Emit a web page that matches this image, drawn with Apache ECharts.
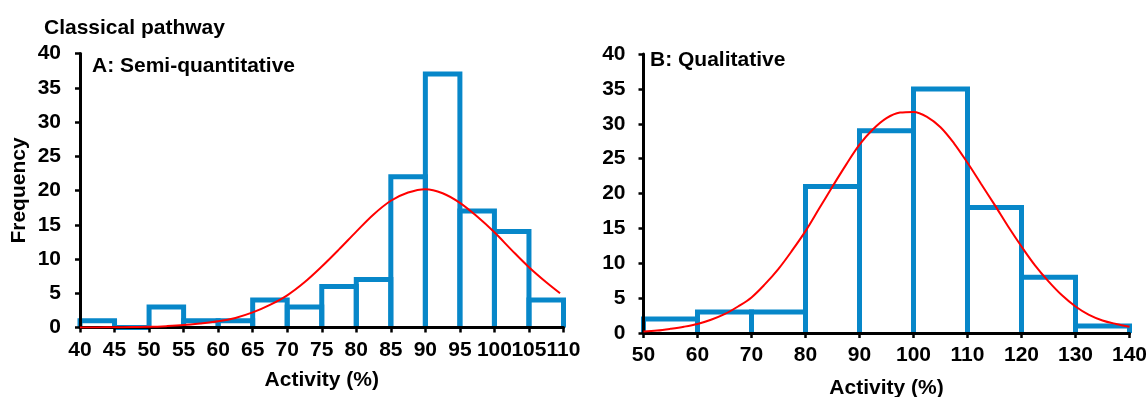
<!DOCTYPE html>
<html>
<head>
<meta charset="utf-8">
<script src="https://cdn.jsdelivr.net/npm/echarts@6/dist/echarts.min.js"></script>
<style>
  html, body { margin: 0; padding: 0; background: #fff; }
  #chart { width: 1148px; height: 397px; }
</style>
</head>
<body>
<div id="chart"></div>
<script>
// panel A: semi-quantitative, bins of 5
var binStartA = [40, 45, 50, 55, 60, 65, 70, 75, 80, 85, 90, 95, 100, 105];
var countA    = [1, 0, 3, 1, 1, 4, 3, 6, 7, 22, 37, 17, 14, 4];
var curveAx = [40, 42.5, 45, 47.5, 50, 52.5, 55, 57.5, 60, 62.5, 65, 67.5, 70, 72.5, 75, 77.5, 80, 82.5, 85, 87.5, 90, 92.5, 95, 97.5, 100, 102.5, 105, 107.5, 109.5];
var curveAy = [0, 0.01, 0.03, 0.06, 0.1, 0.2, 0.35, 0.6, 0.9, 1.4, 2.2, 3.3, 4.7, 6.6, 8.9, 11.4, 14.0, 16.5, 18.5, 19.7, 20.2, 19.6, 18.2, 16.2, 13.9, 11.3, 8.8, 6.6, 5.0];

// panel B: qualitative, bins of 10
var binStartB = [50, 60, 70, 80, 90, 100, 110, 120, 130];
var countB    = [2, 3, 3, 21, 29, 35, 18, 8, 1];
var curveBx = [50, 52.5, 55, 57.5, 60, 62.5, 65, 67.5, 70, 72.5, 75, 77.5, 80, 82.5, 85, 87.5, 90, 92.5, 95, 97.5, 100, 102.5, 105, 107.5, 110, 112.5, 115, 117.5, 120, 122.5, 125, 127.5, 130, 132.5, 135, 137.5, 140];
var curveBy = [0.2, 0.35, 0.6, 0.9, 1.3, 1.9, 2.7, 3.8, 5.1, 7.0, 9.2, 11.8, 14.6, 17.8, 21.0, 24.1, 27.0, 29.2, 30.8, 31.6, 31.7, 31.0, 29.5, 27.2, 24.4, 21.4, 18.4, 15.3, 12.4, 9.7, 7.4, 5.4, 3.8, 2.6, 1.8, 1.3, 0.9];

var FONT = '"Liberation Sans", Arial, sans-serif';
var FS = 21;
var BLUE = '#0787c9';

function histData(starts, counts, width) {
    var out = [];
    for (var i = 0; i < starts.length; i++) {
        out.push([starts[i], starts[i] + width, counts[i]]);
    }
    return out;
}

function zipXY(xs, ys) {
    var out = [];
    for (var i = 0; i < xs.length; i++) out.push([xs[i], ys[i]]);
    return out;
}

// open-bottom outlined bar, like the excel histogram
function renderBin(params, api) {
    var x0 = api.value(0), x1 = api.value(1), n = api.value(2);
    return {
        type: 'polyline',
        shape: { points: [api.coord([x0, 0]), api.coord([x0, n]), api.coord([x1, n]), api.coord([x1, 0])] },
        style: { fill: 'none', stroke: BLUE, lineWidth: 5, lineJoin: 'miter' }
    };
}

var labelStyle = { color: '#000', fontFamily: FONT, fontWeight: 'bold', fontSize: FS };
var axisLine = { show: true, onZero: false, lineStyle: { color: '#000', width: 3 } };
var axisTick = { show: true, inside: false, length: 5, lineStyle: { color: '#000', width: 2.5 } };

function xAx(idx, min, max, step, margin, gap) {
    return {
        type: 'value', gridIndex: idx, min: min, max: max, interval: step, z: 5,
        axisLine: axisLine, axisTick: axisTick, splitLine: { show: false },
        axisLabel: Object.assign({ margin: margin, showMinLabel: true, showMaxLabel: true }, labelStyle),
        name: 'Activity (%)', nameLocation: 'middle', nameGap: gap,
        nameTextStyle: labelStyle
    };
}

function yAx(idx, margin, withName) {
    var ax = {
        type: 'value', gridIndex: idx, min: 0, max: 40, interval: 5, z: 5,
        axisLine: axisLine, axisTick: axisTick, splitLine: { show: false },
        axisLabel: Object.assign({ margin: margin }, labelStyle)
    };
    if (withName) {
        ax.name = 'Frequency';
        ax.nameLocation = 'middle';
        ax.nameGap = 50;
        ax.nameTextStyle = labelStyle;
    }
    return ax;
}

function label(text, x, y) {
    return {
        type: 'text', x: x, y: y,
        style: { text: text, fill: '#000', fontFamily: FONT, fontWeight: 'bold', fontSize: FS, align: 'left', verticalAlign: 'middle' }
    };
}

var myChart = echarts.init(document.getElementById('chart'));
var option = {
    backgroundColor: '#fff',
    animation: false,
    graphic: [
        label('Classical pathway', 44, 28),
        label('A: Semi-quantitative', 92, 66),
        label('B: Qualitative', 650, 60)
    ],
    grid: [
        { left: 80, top: 53.5, width: 483.5, height: 274, outerBoundsMode: 'none' },
        { left: 643.5, top: 54, width: 486, height: 279, outerBoundsMode: 'none' }
    ],
    xAxis: [
        xAx(0, 40, 110, 5, 12, 42),
        xAx(1, 50, 140, 10, 12, 45)
    ],
    yAxis: [
        yAx(0, 19, true),
        yAx(1, 18, false)
    ],
    series: [
        {
            type: 'custom', xAxisIndex: 0, yAxisIndex: 0,
            renderItem: renderBin, data: histData(binStartA, countA, 5)
        },
        {
            type: 'line', xAxisIndex: 0, yAxisIndex: 0, smooth: 0.35, showSymbol: false,
            lineStyle: { color: '#ff0000', width: 2 }, z: 6,
            data: zipXY(curveAx, curveAy)
        },
        {
            type: 'custom', xAxisIndex: 1, yAxisIndex: 1,
            renderItem: renderBin, data: histData(binStartB, countB, 10)
        },
        {
            type: 'line', xAxisIndex: 1, yAxisIndex: 1, smooth: 0.35, showSymbol: false,
            lineStyle: { color: '#ff0000', width: 2 }, z: 6,
            data: zipXY(curveBx, curveBy)
        }
    ]
};
myChart.setOption(option);
</script>
</body>
</html>
